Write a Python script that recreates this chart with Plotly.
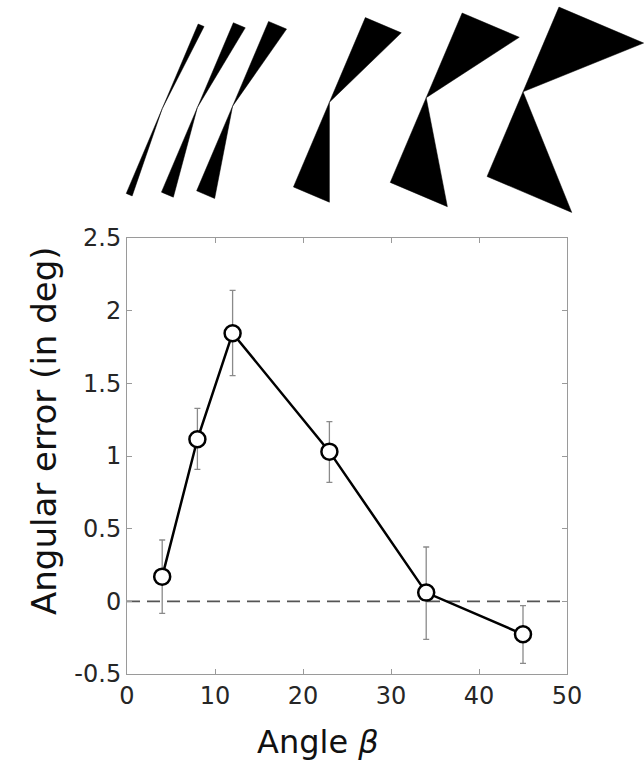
import numpy as np
import plotly.graph_objects as go

# ---- data ----
beta = [4, 8, 12, 23, 34, 45]
err_mean = [0.17, 1.115, 1.845, 1.03, 0.06, -0.227]
err_upper = [0.422, 1.328, 2.14, 1.236, 0.374, -0.03]
err_lower = [-0.083, 0.908, 1.553, 0.819, -0.262, -0.427]

x_ticks = [0, 10, 20, 30, 40, 50]
x_ticktext = ["0", "10", "20", "30", "40", "50"]
y_ticks = [-0.5, 0, 0.5, 1, 1.5, 2, 2.5]
y_ticktext = ["-0.5", "0", "0.5", "1", "1.5", "2", "2.5"]

zero_x = [0, 50]
zero_y = [0, 0]

# ---- layout geometry (px) ----
W, H = 644, 766
PX0, PX1 = 127, 567            # data axes, left/right (px)
PY0, PY1 = 238, 674            # data axes, top/bottom (px)
TOP_H = 225                    # height of the stimulus strip (px from top)
px_per_x = (PX1 - PX0) / 50.0

err_plus = [u - m for u, m in zip(err_upper, err_mean)]
err_minus = [m - l for m, l in zip(err_mean, err_lower)]

fig = go.Figure()

# dashed zero line
fig.add_trace(go.Scatter(
    x=zero_x, y=zero_y, mode="lines",
    line=dict(color="#555555", width=1.6, dash="13px,7px"),
    hoverinfo="skip", showlegend=False))

# data line with error bars
fig.add_trace(go.Scatter(
    x=beta, y=err_mean, mode="lines+markers",
    line=dict(color="black", width=2.5),
    marker=dict(size=16, color="white", line=dict(color="black", width=2.5)),
    error_y=dict(type="data", symmetric=False, array=err_plus, arrayminus=err_minus,
                 color="#8a8a8a", thickness=1.3, width=3),
    showlegend=False))

# ---- bow-tie stimuli (apex angle = beta) ----
a = 92.0
theta = np.deg2rad(23.0)
u = np.array([np.sin(theta), np.cos(theta)])       # up-right (y up)
v = np.array([np.cos(theta), -np.sin(theta)])      # right-down (y up)
sx, sy = [], []
for b in beta:
    t = a * np.tan(np.deg2rad(b))
    c = np.array([0.0, TOP_H - 110.0 + 0.198 * t])
    tri1 = [c, c + a * u, c + a * u + t * v]
    tri2 = [c, c - a * u, c - a * u + t * v]
    for tri in (tri1, tri2):
        for p in tri + [tri[0]]:
            sx.append(b + p[0] / px_per_x)
            sy.append(p[1])
        sx.append(None)
        sy.append(None)

fig.add_trace(go.Scatter(
    x=sx, y=sy, xaxis="x2", yaxis="y2", mode="lines",
    fill="toself", fillcolor="black", line=dict(color="black", width=0.5),
    hoverinfo="skip", showlegend=False))

axis_grey = "#9a9a9a"
tick_font = dict(family="DejaVu Sans", size=24, color="#262626")

fig.update_layout(
    width=W, height=H,
    margin=dict(l=0, r=0, t=0, b=0, pad=0),
    plot_bgcolor="white", paper_bgcolor="white",
    xaxis=dict(range=[0, 50], tickvals=x_ticks, ticktext=x_ticktext,
               ticks="inside", ticklen=5, tickcolor=axis_grey, tickwidth=1,
               showline=True, linecolor=axis_grey, linewidth=1, mirror="ticks",
               showgrid=False, zeroline=False, tickfont=tick_font,
               anchor="y", domain=[PX0 / W, PX1 / W], automargin=False),
    yaxis=dict(range=[-0.5, 2.5], tickvals=y_ticks, ticktext=y_ticktext,
               ticks="inside", ticklen=5, tickcolor=axis_grey, tickwidth=1,
               showline=True, linecolor=axis_grey, linewidth=1, mirror="ticks",
               showgrid=False, zeroline=False, tickfont=tick_font,
               domain=[(H - PY1) / H, (H - PY0) / H], anchor="x", automargin=False),
    xaxis2=dict(range=[-PX0 / px_per_x, (W - PX0) / px_per_x], domain=[0, 1],
                anchor="y2", visible=False, showgrid=False, zeroline=False,
                automargin=False),
    yaxis2=dict(range=[0, TOP_H], domain=[(H - TOP_H) / H, 1],
                anchor="x2", visible=False, showgrid=False, zeroline=False,
                automargin=False),
    annotations=[
        dict(text="Angular error (in deg)", textangle=-90,
             x=44 / W, y=(H - 431) / H,
             xref="paper", yref="paper", xanchor="center", yanchor="middle",
             showarrow=False, font=dict(family="DejaVu Sans", size=34, color="#111111")),
        dict(text="Angle <i>β</i>",
             x=318 / W, y=(H - 742) / H,
             xref="paper", yref="paper", xanchor="center", yanchor="middle",
             showarrow=False, font=dict(family="DejaVu Sans", size=32, color="#111111")),
    ],
)

fig.write_html("out.html", config={"displayModeBar": False},
               post_script="document.body.style.margin='0';document.body.style.padding='0';")
